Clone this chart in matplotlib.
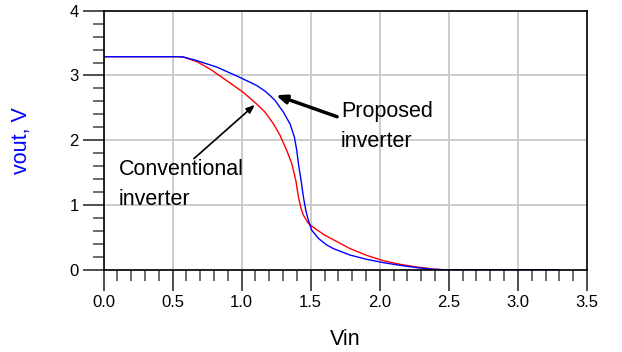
import matplotlib
matplotlib.use('Agg')
from matplotlib import pyplot as plt
from matplotlib.ticker import MultipleLocator

plt.rcParams['font.family'] = ['Liberation Sans', 'DejaVu Sans']

# proposed inverter (blue)
vin_prop = [0.0, 0.55, 0.578, 0.675, 0.82, 0.988, 1.109, 1.169, 1.206, 1.242, 1.302,
            1.35, 1.382, 1.399, 1.411, 1.43, 1.447, 1.464, 1.483, 1.507, 1.556, 1.616,
            1.664, 1.785, 1.906, 2.026, 2.147, 2.268, 2.388, 2.5, 3.3]
vout_prop = [3.29, 3.29, 3.285, 3.23, 3.13, 2.97, 2.846, 2.76, 2.69, 2.615, 2.435,
             2.255, 2.05, 1.846, 1.64, 1.385, 1.128, 0.923, 0.77, 0.615, 0.487, 0.385,
             0.33, 0.23, 0.164, 0.113, 0.072, 0.036, 0.01, 0.0, 0.0]

# conventional inverter (red)
vin_conv = [0.0, 0.55, 0.578, 0.675, 0.771, 0.892, 1.012, 1.109, 1.169, 1.23, 1.278,
            1.326, 1.363, 1.392, 1.411, 1.43, 1.447, 1.483, 1.531, 1.60, 1.67,
            1.785, 1.906, 2.026, 2.147, 2.268, 2.388, 2.485, 3.3]
vout_conv = [3.29, 3.29, 3.285, 3.215, 3.10, 2.92, 2.74, 2.56, 2.435, 2.255, 2.077,
             1.846, 1.64, 1.385, 1.128, 0.949, 0.846, 0.718, 0.64, 0.54, 0.46,
             0.33, 0.225, 0.143, 0.087, 0.046, 0.015, 0.0, 0.0]

fig = plt.figure(figsize=(6.22, 3.52), dpi=100)
ax = fig.add_axes([0.1664, 0.233, 0.7773, 0.7367])

ax.plot(vin_conv, vout_conv, color='#ff0000', lw=1.0)
ax.plot(vin_prop, vout_prop, color='#0000ff', lw=1.0)

ax.set_xlim(0, 3.5)
ax.set_ylim(0, 4)
ax.xaxis.set_major_locator(MultipleLocator(0.5))
ax.xaxis.set_minor_locator(MultipleLocator(0.1))
ax.yaxis.set_major_locator(MultipleLocator(1))
ax.yaxis.set_minor_locator(MultipleLocator(0.2))
ax.set_xticks([0, 0.5, 1.0, 1.5, 2.0, 2.5, 3.0, 3.5])
ax.set_xticklabels(['0.0', '0.5', '1.0', '1.5', '2.0', '2.5', '3.0', '3.5'])
ax.grid(True, which='major', color='#c8c8c8', lw=1.3)
ax.set_axisbelow(True)
ax.tick_params(which='major', length=15, width=1.3, color='#404040', labelsize=12, pad=3)
ax.tick_params(which='minor', length=8, width=1.3, color='#606060')
for s in ax.spines.values():
    s.set_linewidth(1.2)
    s.set_color('black')

ax.set_xlabel('Vin', fontsize=15.5)
ax.set_ylabel('vout, V', fontsize=15.5, color='#0000ff')
ax.xaxis.set_label_coords(0.5, -0.228)
ax.yaxis.set_label_coords(-0.148, 0.5)

# arrows and labels (text y = baseline of the last line)
ax.annotate('', xy=(1.23, 2.71), xytext=(1.71, 2.35),
            arrowprops=dict(arrowstyle='-|>,head_length=0.6,head_width=0.25', color='black', lw=2.5))
ax.text(1.72, 1.897, 'Proposed\ninverter', fontsize=15.5, ha='left', va='baseline', linespacing=1.55)
ax.annotate('', xy=(1.11, 2.575), xytext=(0.64, 1.69),
            arrowprops=dict(arrowstyle='-|>,head_length=0.5,head_width=0.2', color='black', lw=1.2))
ax.text(0.113, 1.0, 'Conventional\ninverter', fontsize=15.5, ha='left', va='baseline', linespacing=1.55)

fig.savefig('out.png', dpi=100)
